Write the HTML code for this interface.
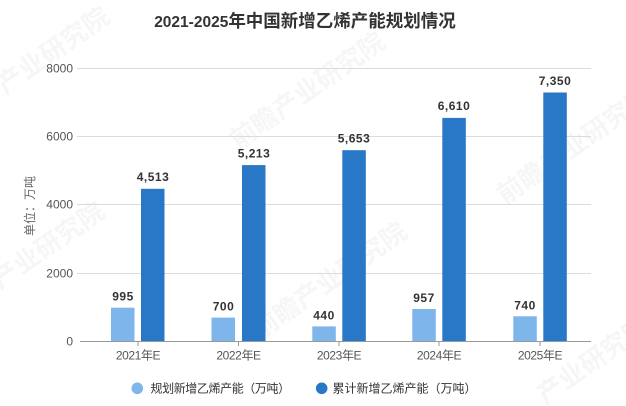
<!DOCTYPE html>
<html>
<head>
<meta charset="utf-8">
<style>
html,body{margin:0;padding:0;background:#fff;}
body{width:626px;height:406px;overflow:hidden;}
svg{display:block;}
.t{font-family:"Liberation Sans","Noto Sans CJK SC",sans-serif;}
</style>
</head>
<body>
<svg width="626" height="406" viewBox="0 0 626 406" xmlns="http://www.w3.org/2000/svg">
  <rect width="626" height="406" fill="#fff"/>
  <!-- watermarks -->
  <g class="t" fill="#000" fill-opacity="0.035" font-weight="bold" font-size="26">
    <text transform="translate(5,95) rotate(-35)">产业研究院</text>
    <text transform="translate(238,150) rotate(-35)">前瞻产业研究院</text>
    <text transform="translate(505,205) rotate(-35)">前瞻产业研究院</text>
    <text transform="translate(0,290) rotate(-35)">产业研究院</text>
    <text transform="translate(260,340) rotate(-35)">前瞻产业研究院</text>
    <text transform="translate(545,405) rotate(-35)">产业研究院</text>
  </g>
  <!-- title -->
  <text class="t" x="305" y="27" text-anchor="middle" fill="#333" font-weight="bold"><tspan font-size="15.5">2021-2025</tspan><tspan font-size="17.5">年中国新增乙烯产能规划情况</tspan></text>
  <!-- gridlines -->
  <g stroke="#dcdcdc" stroke-width="1">
    <line x1="77" y1="68.5" x2="591" y2="68.5"/>
    <line x1="77" y1="136.5" x2="591" y2="136.5"/>
    <line x1="77" y1="204.5" x2="591" y2="204.5"/>
    <line x1="77" y1="273.5" x2="591" y2="273.5"/>
  </g>
  <!-- y labels -->
  <g class="t" font-size="12" fill="#555" text-anchor="end">
    <text x="73" y="72.5">8000</text>
    <text x="73" y="140.5">6000</text>
    <text x="73" y="208.5">4000</text>
    <text x="73" y="277.5">2000</text>
    <text x="73" y="345.5">0</text>
  </g>
  <text class="t" transform="translate(34,206) rotate(-90)" text-anchor="middle" font-size="12" fill="#666">单位：万吨</text>
  <!-- bars -->
  <g fill="#7EB5EA">
    <rect x="111" y="307.7" width="23.5" height="33.6"/>
    <rect x="211.5" y="317.6" width="23.5" height="23.7"/>
    <rect x="312.3" y="326.4" width="23.5" height="14.9"/>
    <rect x="412.3" y="309" width="23.5" height="32.3"/>
    <rect x="513.3" y="316.3" width="23.5" height="25"/>
  </g>
  <g fill="#2878C7">
    <rect x="141" y="188.8" width="23.5" height="152.5"/>
    <rect x="242" y="165.1" width="23.5" height="176.2"/>
    <rect x="342.3" y="150.2" width="23.5" height="191.1"/>
    <rect x="442.3" y="117.9" width="23.5" height="223.4"/>
    <rect x="543.3" y="92.5" width="23.5" height="248.8"/>
  </g>
  <!-- axis -->
  <line x1="80" y1="341.5" x2="591" y2="341.5" stroke="#999" stroke-width="1"/>
  <g stroke="#999" stroke-width="1">
    <line x1="138" y1="341.5" x2="138" y2="346"/>
    <line x1="238.5" y1="341.5" x2="238.5" y2="346"/>
    <line x1="339" y1="341.5" x2="339" y2="346"/>
    <line x1="439" y1="341.5" x2="439" y2="346"/>
    <line x1="540" y1="341.5" x2="540" y2="346"/>
  </g>
  <!-- value labels -->
  <g class="t" font-size="12" font-weight="bold" fill="#333" text-anchor="middle" letter-spacing="0.5">
    <text x="123" y="300.7">995</text>
    <text x="223.5" y="310.6">700</text>
    <text x="324" y="319.4">440</text>
    <text x="424" y="302">957</text>
    <text x="525" y="309.3">740</text>
    <text x="153" y="181">4,513</text>
    <text x="254" y="157.3">5,213</text>
    <text x="354" y="142.4">5,653</text>
    <text x="454" y="110">6,610</text>
    <text x="555" y="85">7,350</text>
  </g>
  <!-- x labels -->
  <g class="t" font-size="12" fill="#555" text-anchor="middle" letter-spacing="-0.4">
    <text x="138" y="359.5">2021年E</text>
    <text x="238.5" y="359.5">2022年E</text>
    <text x="339" y="359.5">2023年E</text>
    <text x="439" y="359.5">2024年E</text>
    <text x="540" y="359.5">2025年E</text>
  </g>
  <!-- legend -->
  <circle cx="137.3" cy="388.3" r="5.8" fill="#7EB5EA"/>
  <text class="t" x="150.5" y="392.5" font-size="12" fill="#333" letter-spacing="-0.4">规划新增乙烯产能（万吨）</text>
  <circle cx="321.7" cy="388.3" r="5.8" fill="#2878C7"/>
  <text class="t" x="332.5" y="392.5" font-size="12" fill="#333">累计新增乙烯产能（万吨）</text>
</svg>
</body>
</html>
